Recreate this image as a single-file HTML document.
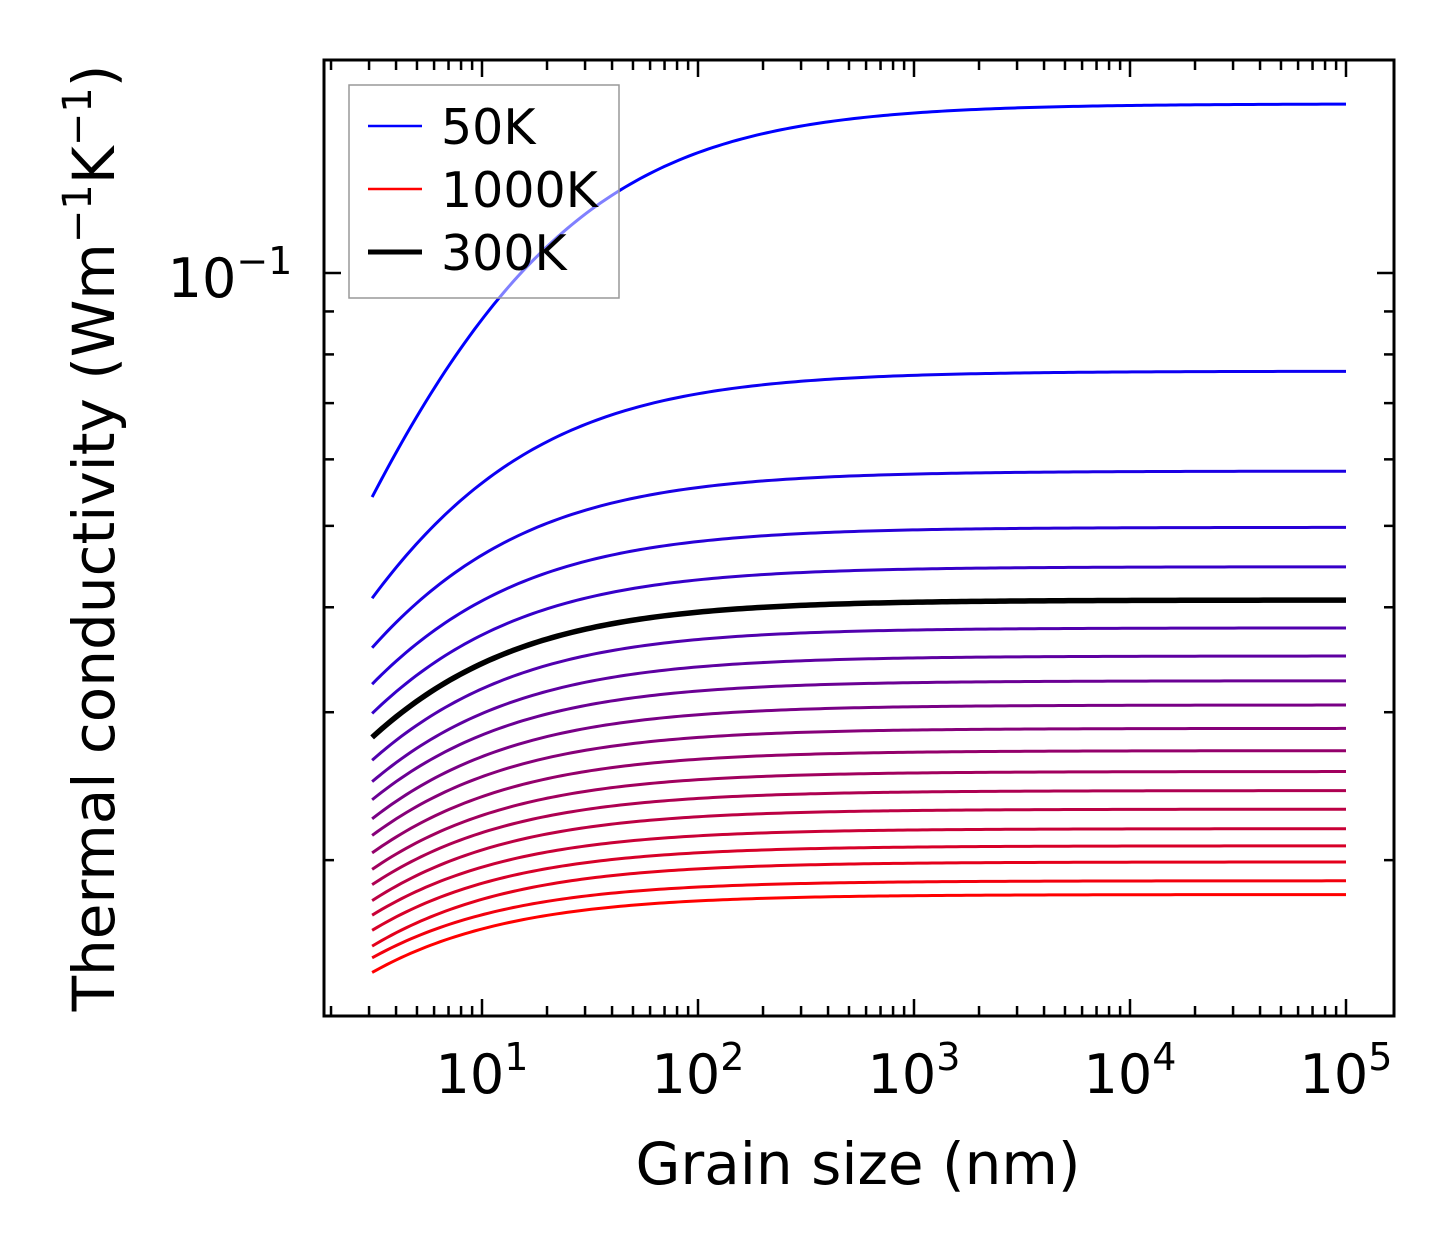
<!DOCTYPE html>
<html><head><meta charset="utf-8"><style>
html,body{margin:0;padding:0;background:#fff;}
svg{display:block;font-family:"DejaVu Sans","Liberation Sans",sans-serif;}
</style></head><body>
<svg id="chart" width="1454" height="1254" viewBox="0 0 1454 1254" xmlns="http://www.w3.org/2000/svg">
<g id="curves"></g>
<g id="ticks"></g>
<rect x="324" y="60" width="1070" height="956" fill="none" stroke="#000" stroke-width="3"/>
<g font-size="54" text-anchor="middle" id="xlabels"></g>
<text x="230" y="297" font-size="54" text-anchor="middle">10<tspan dy="-23" font-size="38">−1</tspan></text>
<text x="858" y="1184" font-size="58" text-anchor="middle">Grain size (nm)</text>
<text transform="translate(114,538) rotate(-90)" font-size="58" text-anchor="middle">Thermal conductivity (Wm<tspan dy="-23" font-size="40">−1</tspan><tspan dy="23">K</tspan><tspan dy="-23" font-size="40">−1</tspan><tspan dy="23">)</tspan></text>
<g>
<rect x="349" y="85" width="270" height="213" fill="#fff" fill-opacity="0.5" stroke="#999" stroke-width="1.5"/>
<line x1="368" y1="126" x2="422" y2="126" stroke="#0000ff" stroke-width="2.5"/>
<text x="441" y="144" font-size="49">50K</text>
<line x1="368" y1="189" x2="422" y2="189" stroke="#ff0000" stroke-width="2.5"/>
<text x="441" y="207" font-size="49">1000K</text>
<line x1="368" y1="252" x2="422" y2="252" stroke="#000" stroke-width="5"/>
<text x="441" y="270" font-size="49">300K</text>
</g>
</svg>
<script>
const temperatures = [50,100,150,200,250,300,350,400,450,500,550,600,650,700,750,800,850,900,950,1000];
const kInf = [0.159,0.0764,0.0581,0.0498,0.0447,0.0408,0.0378,0.0350,0.0327,0.0306,0.0287,0.0270,0.0255,0.0242,0.0230,0.0218,0.0208,0.0199,0.0189,0.0182];
const kStart = [0.0541,0.0410,0.0358,0.0324,0.0299,0.0280,0.0263,0.0248,0.0236,0.0224,0.0214,0.0204,0.0195,0.0187,0.0179,0.0172,0.0165,0.0158,0.0153,0.0147];
const highlightT = 300;
const xTickLabels = ["1","2","3","4","5"];
const yMinorVals = [0.02,0.03,0.04,0.05,0.06,0.07,0.08,0.09];
const yMajorVals = [0.1];

const X = v => 482 + (Math.log10(v) - 1) * 216;
const Y = v => 273 - (Math.log10(v) + 1) * 840;
const NS = "http://www.w3.org/2000/svg";
const Lmin = 3.1, Lmax = 1e5, P = 0.75;

function pathFor(i){
  const r = kInf[i]/kStart[i] - 1;
  let d = "";
  for(let j=0;j<=200;j++){
    const L = Math.pow(10, Math.log10(Lmin) + j/200*(Math.log10(Lmax)-Math.log10(Lmin)));
    const k = kInf[i] / (1 + r*Math.pow(Lmin/L, P));
    d += (j?"L":"M") + X(L).toFixed(2) + "," + Y(k).toFixed(2);
  }
  return d;
}
const cg = document.getElementById("curves");
const n = temperatures.length;
temperatures.forEach((T,i)=>{
  const t = i/(n-1);
  const p = document.createElementNS(NS,"path");
  p.setAttribute("d", pathFor(i));
  p.setAttribute("fill","none");
  p.setAttribute("stroke", `rgb(${Math.round(255*t)},0,${Math.round(255*(1-t))})`);
  p.setAttribute("stroke-width","3");
  
  
  cg.appendChild(p);
});
const hi = temperatures.indexOf(highlightT);
const hp = document.createElementNS(NS,"path");
hp.setAttribute("d", pathFor(hi));
hp.setAttribute("fill","none");
hp.setAttribute("stroke","#000");
hp.setAttribute("stroke-width","5.5");


cg.appendChild(hp);

const tg = document.getElementById("ticks");
function tick(x1,y1,x2,y2,w){
  const l = document.createElementNS(NS,"line");
  l.setAttribute("x1",x1);l.setAttribute("y1",y1);l.setAttribute("x2",x2);l.setAttribute("y2",y2);
  l.setAttribute("stroke","#000");l.setAttribute("stroke-width",w);
  
  
  tg.appendChild(l);
}
for(let e=0;e<=5;e++){
  for(let m=1;m<10;m++){
    const v = m*Math.pow(10,e);
    const x = X(v);
    if(x<326||x>1392) continue;
    const len = m===1?17:10;
    tick(x,1016,x,1016-len,2.5);
    tick(x,60,x,60+len,2.5);
  }
}
yMinorVals.forEach(v=>{const y=Y(v);tick(324,y,334,y,2.5);tick(1394,y,1384,y,2.5);});
yMajorVals.forEach(v=>{const y=Y(v);tick(324,y,341,y,2.5);tick(1394,y,1377,y,2.5);});

const xl = document.getElementById("xlabels");
xTickLabels.forEach(e=>{
  const t = document.createElementNS(NS,"text");
  t.setAttribute("x", X(Math.pow(10,+e)));
  t.setAttribute("y", 1093);
  t.innerHTML = '10<tspan dy="-23" font-size="38">'+e+'</tspan>';
  
  
  xl.appendChild(t);
});
</script>
</body></html>
